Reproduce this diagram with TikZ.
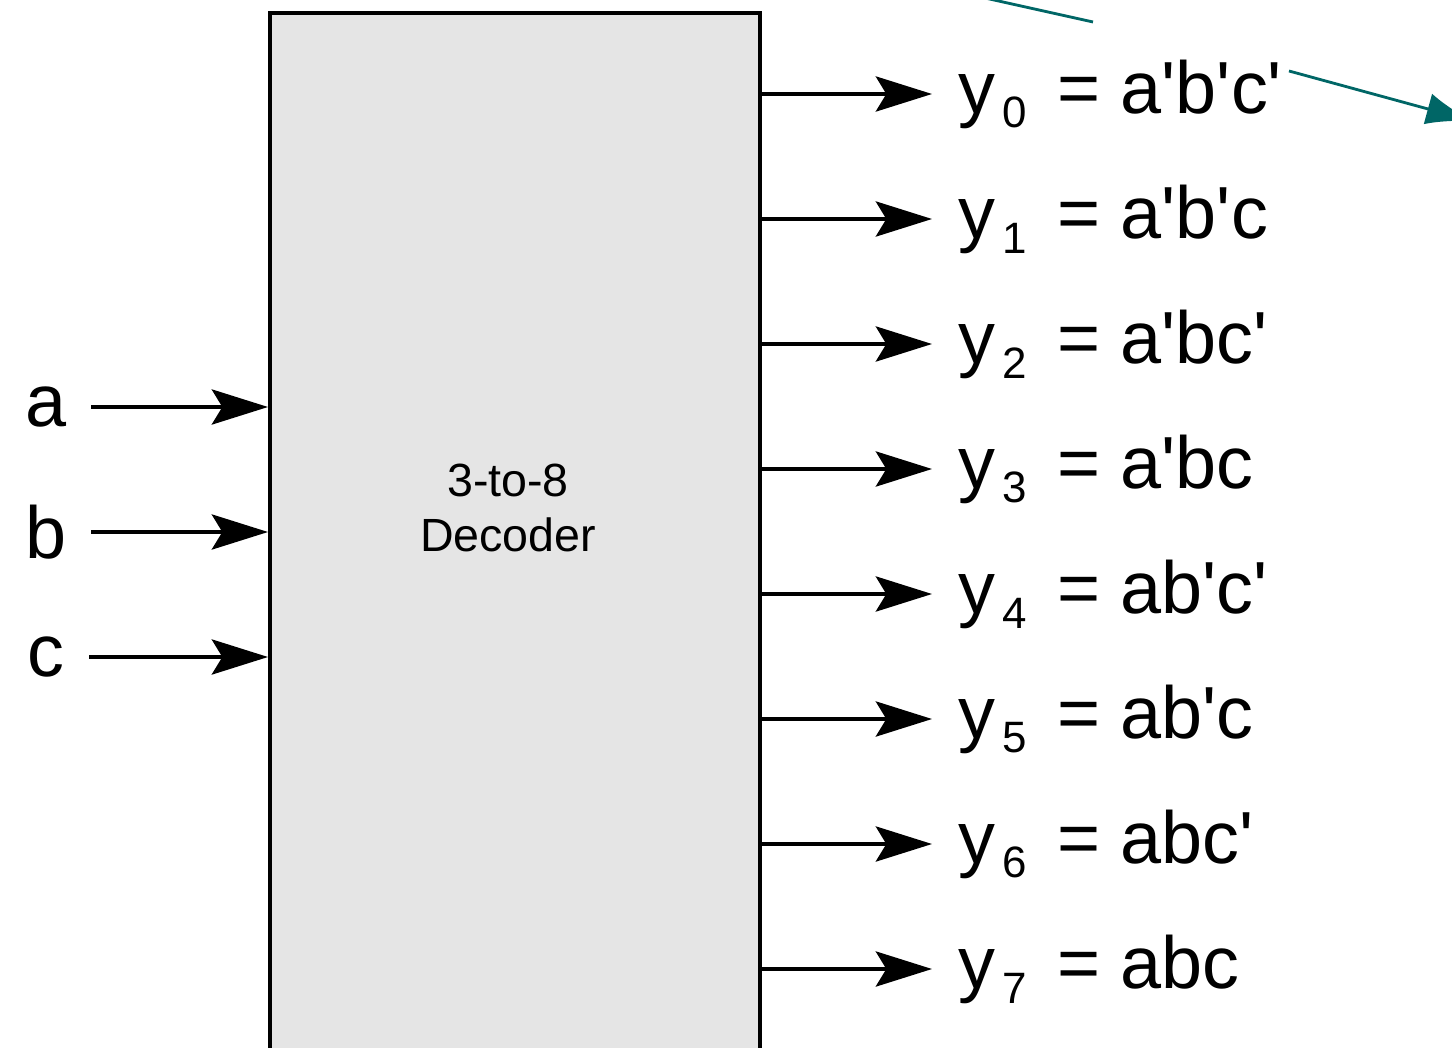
\documentclass[tikz,border=0pt]{standalone}
\usepackage{fontspec}
\newfontfamily\labfont{Liberation Sans}
\usetikzlibrary{arrows.meta}
\definecolor{tealline}{RGB}{0,102,102}
\newcommand{\sub}[1]{\hspace{4pt}\raisebox{-8.5pt}{\fontsize{25}{25}\selectfont #1}\hspace{5.5pt}}

\begin{document}
\begin{tikzpicture}[x=0.02cm,y=-0.02cm,
  sig/.style={line width=2.2pt,-{Stealth[length=32pt,width=20pt,inset=6pt]}},
  lab/.style={font=\labfont\fontsize{42}{44}\selectfont,inner sep=0pt},
  note/.style={line width=1.6pt,draw=tealline}]
\clip (0,0) rectangle (1452,1047);
\node [draw=black,line width=2.2pt,fill=gray!20,minimum width=490*0.02cm,minimum height=1080*0.02cm,anchor=north west,inner sep=0pt] (dec) at (268,11) {};
\node [font=\labfont\fontsize{26.5}{31}\selectfont,align=center] (name) at (508,508) {3-to-8\\Decoder};
\node [lab] (a) at (46,407) {a};
\node [lab] (b) at (46,532) {b};
\node [lab] (c) at (46,657) {c};
\draw [sig] ([xshift=14pt]a.east) -- (dec.west |- a);
\draw [sig] ([xshift=14pt]b.east) -- (dec.west |- b);
\draw [sig] ([xshift=14pt]c.east) -- (dec.west |- c);
\foreach \i/\term in {0/a'b'c',1/a'b'c,2/a'bc',3/a'bc,4/ab'c',5/ab'c,6/abc',7/abc} {
  \node [lab,anchor=west,inner xsep=15pt] (y\i) at (932,94+125*\i) {y\sub{\i} = \term};
  \draw [sig] (dec.east |- y\i.west) -- (y\i.west);
}
\coordinate (t1) at (985,-2);
\coordinate (t2) at (1093,22);
\draw [note] (t1) -- (t2);
\coordinate (t3) at (1289,71);
\coordinate (t4) at (1472,121);
\draw [note,-{Latex[length=26pt,width=18pt]}] (t3) -- (t4);
\end{tikzpicture}
\end{document}
